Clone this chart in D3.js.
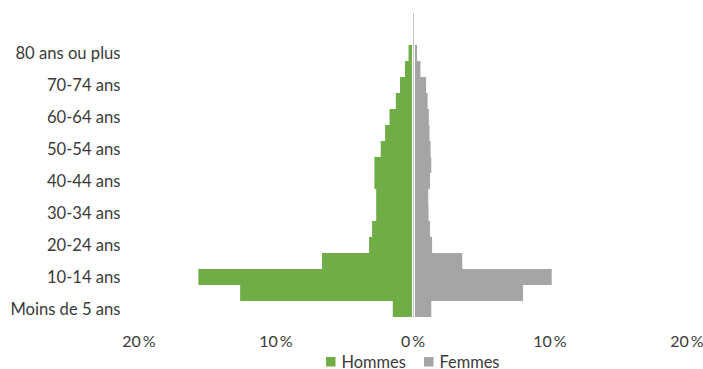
<!DOCTYPE html>
<html>
<head>
<meta charset="utf-8">
<script src="https://cdn.jsdelivr.net/npm/d3@7"></script>
<style>
  html, body { margin: 0; padding: 0; background: #fff; }
  svg { display: block; font-family: Lato, "Open Sans", sans-serif; }
</style>
</head>
<body>
<svg id="chart" width="703" height="369"></svg>
<script>
// Age groups, youngest first
const categories = [
  "Moins de 5 ans", "5-9 ans", "10-14 ans", "15-19 ans", "20-24 ans",
  "25-29 ans", "30-34 ans", "35-39 ans", "40-44 ans", "45-49 ans",
  "50-54 ans", "55-59 ans", "60-64 ans", "65-69 ans", "70-74 ans",
  "75-79 ans", "80 ans ou plus"
];
// Share of the population, in %
const hommes = [1.44, 12.58, 15.63, 6.6, 3.17, 2.95, 2.65, 2.65, 2.78, 2.78,
                2.32, 2.0, 1.68, 1.22, 0.91, 0.55, 0.29];
const femmes = [1.37, 8.07, 10.16, 3.63, 1.43, 1.28, 1.17, 1.15, 1.28, 1.37,
                1.32, 1.24, 1.19, 1.1, 0.99, 0.58, 0.33];
const tickValues = [-20, -10, 0, 10, 20];
const seriesNames = ["Hommes", "Femmes"];
const colors = ["#70ad47", "#a5a5a5"];

const svg = d3.select("#chart");
const textColor = "#3a3a3a";

// Plot area: 19 slots high, the top two left empty
const plotTop = 13, plotBottom = 317;
const step = (plotBottom - plotTop) / 19;

const x = d3.scaleLinear().domain([-20, 20]).range([138.5, 686.5]);
const y = d3.scaleBand()
  .domain(categories)
  .range([plotBottom, plotBottom - categories.length * step])
  .padding(0);

const rows = categories.map((c, i) => ({ cat: c, h: hommes[i], f: femmes[i] }));

// Hommes bars (left of zero)
svg.append("g").selectAll("rect").data(rows).join("rect")
  .attr("x", d => x(-d.h))
  .attr("y", d => y(d.cat))
  .attr("width", d => x(0) - x(-d.h))
  .attr("height", y.bandwidth())
  .attr("fill", colors[0]);

// Femmes bars (right of zero)
svg.append("g").selectAll("rect").data(rows).join("rect")
  .attr("x", x(0))
  .attr("y", d => y(d.cat))
  .attr("width", d => x(d.f) - x(0))
  .attr("height", y.bandwidth())
  .attr("fill", colors[1]);

// Vertical category axis at zero
const x0 = Math.round(x(0)) + 0.5;
svg.append("line")
  .attr("x1", x0).attr("x2", x0)
  .attr("y1", plotTop).attr("y2", plotBottom)
  .attr("stroke", "#fff").attr("stroke-width", 3);
svg.append("line")
  .attr("x1", x0).attr("x2", x0)
  .attr("y1", plotTop).attr("y2", plotBottom)
  .attr("stroke", "#c6c6c6").attr("stroke-width", 1);

// Category labels: every other group
const labelX = 120.5;
svg.append("g").selectAll("text")
  .data(categories.filter((c, i) => i % 2 === 0))
  .join("text")
  .attr("x", labelX)
  .attr("y", d => y(d) + y.bandwidth() / 2 + 5.8)
  .attr("text-anchor", "end")
  .attr("font-size", 16.6)
  .attr("fill", textColor)
  .text(d => d);

// Value axis labels (absolute percentages)
const xAxis = d3.axisBottom(x)
  .tickValues(tickValues)
  .tickSize(0)
  .tickFormat(d => Math.abs(d) + "\u2009%");
const gx = svg.append("g")
  .attr("transform", `translate(0, ${plotBottom})`)
  .call(xAxis);
gx.select(".domain").remove();
gx.selectAll("text")
  .attr("y", 0)
  .attr("dy", 0)
  .attr("transform", "translate(0, 29.5)")
  .attr("font-size", 16)
  .attr("font-family", "Lato, 'Open Sans', sans-serif")
  .attr("fill", textColor);

// Legend
const legendItems = [
  { name: seriesNames[0], color: colors[0], x: 326 },
  { name: seriesNames[1], color: colors[1], x: 424 }
];
const lg = svg.append("g").selectAll("g").data(legendItems).join("g")
  .attr("transform", d => `translate(${d.x}, 357)`);
lg.append("rect")
  .attr("width", 9.5).attr("height", 9.5)
  .attr("fill", d => d.color);
lg.append("text")
  .attr("x", 15.5)
  .attr("y", 10.5)
  .attr("font-size", 16.4)
  .attr("fill", textColor)
  .text(d => d.name);
</script>
</body>
</html>
